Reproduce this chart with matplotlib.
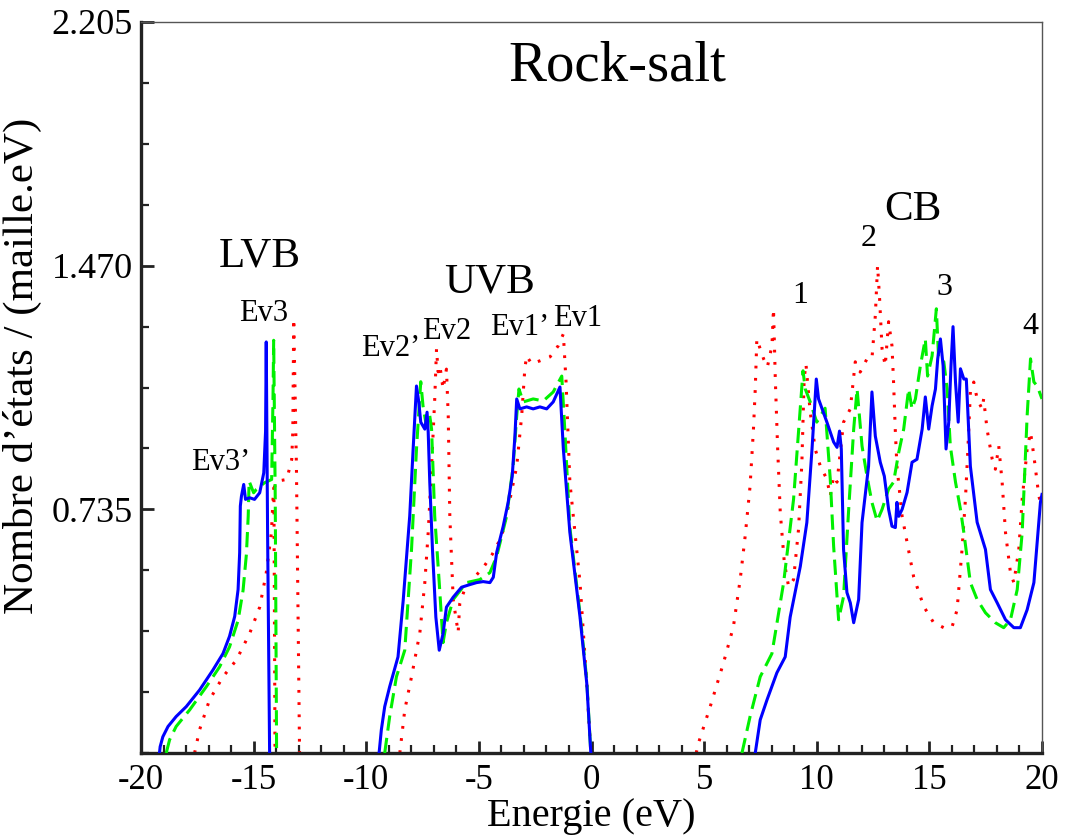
import numpy as np
import matplotlib
matplotlib.use("Agg")
import matplotlib.pyplot as plt
from matplotlib.ticker import MultipleLocator, FixedLocator

plt.rcParams['font.family'] = ['Liberation Serif', 'DejaVu Serif']

nan = np.nan

# ---- Density of states, blue solid curve ----
blue_lvb_e = [-19.18, -19.15, -19.03, -18.80, -18.44, -17.99, -17.40, -16.81, -16.36, -16.07,
              -15.84, -15.69, -15.62, -15.59, -15.54, -15.44, -15.36, -15.18, -14.96, -14.73,
              -14.55, -14.47, -14.44, -14.38, -14.29]
blue_lvb_d = [0, 0.019, 0.049, 0.08, 0.11, 0.14, 0.19, 0.25, 0.30, 0.352,
              0.412, 0.493, 0.604, 0.745, 0.775, 0.81, 0.765, 0.77, 0.765, 0.785,
              0.845, 0.97, 1.24, 0.665, 0]
blue_uvb_e = [-9.43, -9.33, -9.18, -8.96, -8.59, -8.36, -8.07, -7.92, -7.77, -7.67,
              -7.58, -7.40, -7.30, -7.25, -7.18, -7.06, -6.91, -6.76, -6.59, -6.44,
              -6.14, -5.77, -5.40, -5.10, -4.81, -4.51, -4.36, -4.21, -3.92, -3.70,
              -3.52, -3.40, -3.32, -3.18, -2.88, -2.59, -2.29, -1.99, -1.70, -1.40,
              -1.25, -0.96, -0.51, -0.21, -0.03]
blue_uvb_d = [0, 0.07, 0.14, 0.20, 0.29, 0.46, 0.715, 0.915, 1.107, 1.06,
              0.998, 0.977, 1.028, 0.968, 0.817, 0.614, 0.41, 0.31, 0.36, 0.44,
              0.47, 0.50, 0.508, 0.514, 0.517, 0.514, 0.53, 0.605, 0.684, 0.756,
              0.835, 0.956, 1.068, 1.038, 1.044, 1.038, 1.044, 1.038, 1.059, 1.104,
              0.917, 0.665, 0.41, 0.21, 0]
blue_cb_e = [7.27, 7.49, 7.79, 8.23, 8.60, 8.82, 9.27, 9.56, 9.79, 9.98,
             10.08, 10.45, 10.75, 10.90, 11.01, 11.09, 11.19, 11.34, 11.49, 11.64,
             11.86, 12.01, 12.30, 12.45, 12.60, 12.82, 13.00, 13.19, 13.34, 13.49,
             13.56, 13.64, 13.79, 14.01, 14.23, 14.45, 14.68, 14.82, 14.97, 15.12,
             15.27, 15.37, 15.49, 15.61, 15.74, 15.86, 15.96, 16.05, 16.16, 16.28,
             16.38, 16.53, 16.64, 16.82, 17.12, 17.49, 17.71, 18.01, 18.38, 18.75,
             19.04, 19.34, 19.64, 19.93, 20.0]
blue_cb_d = [0, 0.10, 0.16, 0.242, 0.29, 0.41, 0.563, 0.695, 0.917, 1.128,
             1.068, 0.998, 0.938, 0.922, 0.971, 0.917, 0.614, 0.484, 0.453, 0.393,
             0.463, 0.695, 0.865, 1.089, 0.956, 0.877, 0.835, 0.735, 0.684, 0.68,
             0.756, 0.714, 0.735, 0.786, 0.877, 0.886, 0.977, 1.074, 0.977, 1.047,
             1.098, 1.189, 1.249, 1.168, 0.917, 0.998, 1.168, 1.286, 1.119, 0.998,
             1.159, 1.128, 1.128, 0.865, 0.696, 0.614, 0.493, 0.453, 0.402, 0.378,
             0.378, 0.432, 0.514, 0.756, 0.78]

# ---- green dashed curve ----
green_lvb_e = [-18.88, -18.73, -18.44, -17.84, -17.10, -16.51, -16.07, -15.69, -15.47, -15.32,
               -15.24, -15.20, -15.00, -14.88, -14.52, -14.20, -14.14, -14.11, -14.04, -13.98]
green_lvb_d = [0, 0.04, 0.08, 0.13, 0.20, 0.26, 0.32, 0.40, 0.49, 0.60,
               0.715, 0.82, 0.785, 0.795, 0.815, 0.825, 1.07, 1.245, 0.765, 0]
green_uvb_e = [-9.18, -8.96, -8.66, -8.29, -7.99, -7.77, -7.58, -7.48, -7.33, -7.18,
               -7.10, -6.96, -6.76, -6.59, -6.44, -6.14, -5.55, -4.96, -4.51, -4.21,
               -3.77, -3.48, -3.32, -3.22, -3.03, -2.59, -2.14, -1.70, -1.32, -1.18,
               -0.96, -0.51, -0.21, -0.03]
green_uvb_d = [0, 0.11, 0.23, 0.31, 0.614, 0.917, 1.12, 1.047, 0.986, 1.017,
               0.977, 0.714, 0.514, 0.333, 0.393, 0.463, 0.514, 0.523, 0.544, 0.593,
               0.714, 0.865, 1.017, 1.098, 1.059, 1.068, 1.062, 1.089, 1.137, 0.968,
               0.68, 0.42, 0.22, 0]
green_cb_e = [6.68, 7.04, 7.49, 8.01, 8.53, 8.97, 9.19, 9.39, 9.49, 9.71,
              10.0, 10.37, 10.6, 10.75, 10.97, 11.19, 11.41, 11.64, 11.79, 12.01,
              12.23, 12.45, 12.68, 12.9, 13.19, 13.41, 13.64, 13.86, 14.08, 14.23,
              14.38, 14.6, 14.82, 14.92, 15.12, 15.31, 15.41, 15.64, 15.79, 15.93,
              16.16, 16.38, 16.53, 16.82, 17.12, 17.49, 17.93, 18.3, 18.6, 18.9,
              19.12, 19.34, 19.49, 19.64, 19.79, 20.0]
green_cb_d = [0, 0.11, 0.23, 0.30, 0.514, 0.765, 0.968, 1.153, 1.098, 1.059,
              0.998, 1.04, 0.826, 0.623, 0.402, 0.472, 0.726, 0.977, 1.098, 0.926,
              0.835, 0.756, 0.70, 0.735, 0.796, 0.817, 0.907, 0.977, 1.098, 1.038,
              1.068, 1.168, 1.249, 1.137, 1.198, 1.34, 1.189, 1.18, 1.098, 0.926,
              0.817, 0.735, 0.665, 0.514, 0.463, 0.423, 0.393, 0.378, 0.402, 0.493,
              0.665, 1.017, 1.189, 1.119, 1.107, 1.068]

# ---- red dotted curve ----
red_lvb_e = [-17.62, -17.40, -16.96, -16.36, -15.77, -15.18, -14.73, -14.44, -14.21, -14.14,
             -14.10, -14.05, nan, -14.08, -13.98, -13.53, -13.31, -13.26, -13.22, -13.10,
             -12.96]
red_lvb_d = [0, 0.07, 0.16, 0.23, 0.28, 0.36, 0.44, 0.543, 0.665, 0.765,
             0.80, 0, nan, 0.80, 0.82, 0.825, 0.885, 0.97, 1.31, 0.865,
             0]
red_uvb_e = [-8.51, -8.29, -7.99, -7.62, -7.40, -7.25, -7.10, -6.96, -6.88, -6.81,
             -6.73, -6.59, -6.44, -6.36, -6.29, -6.14, -5.92, -5.85, -5.60, -5.20,
             -4.80, -4.40, -3.99, -3.62, -3.32, -3.10, -2.96, -2.88, -2.66, -2.29,
             -1.84, -1.48, -1.25, -1.13, -0.96, -0.51, -0.21, -0.03]
red_uvb_d = [0, 0.13, 0.23, 0.363, 0.514, 0.665, 0.865, 1.068, 1.219, 1.15,
             1.168, 1.098, 1.158, 1.017, 0.714, 0.463, 0.363, 0.45, 0.50, 0.53,
             0.56, 0.60, 0.653, 0.765, 0.865, 1.017, 1.159, 1.198, 1.174, 1.183,
             1.195, 1.228, 1.264, 1.12, 0.817, 0.514, 0.21, 0]
red_cb_e = [4.65, 4.75, 5.27, 5.86, 6.30, 6.60, 6.82, 7.04, 7.19, 7.27,
            7.34, 7.49, 7.64, 7.81, 8.01, 8.08, 8.16, 8.26, 8.38, 8.56,
            8.75, 8.97, 9.19, 9.34, 9.44, 9.52, 9.71, 9.93, 10.16, 10.45,
            10.60, 10.75, 10.90, 11.19, 11.49, 11.71, 11.93, 12.23, 12.45, 12.60,
            12.70, 12.79, 12.90, 13.04, 13.19, 13.34, 13.41, 13.49, 13.56, 13.79,
            14.01, 14.30, 14.75, 15.19, 15.64, 16.01, 16.23, 16.45, 16.60, 16.71,
            16.82, 16.97, 17.12, 17.34, 17.41, 17.56, 17.79, 17.93, 18.08, 18.23,
            18.38, 18.60, 18.75, 18.97, 19.12, 19.34, 19.49, 19.64, 19.86, 20.0]
red_cb_d = [0, 0.03, 0.14, 0.272, 0.381, 0.523, 0.653, 0.805, 0.977, 1.098,
            1.249, 1.219, 1.189, 1.165, 1.228, 1.34, 1.128, 0.926, 0.726, 0.575,
            0.502, 0.523, 0.674, 0.877, 1.128, 1.174, 1.028, 0.917, 0.865, 0.826,
            0.775, 0.835, 0.817, 0.998, 1.038, 1.18, 1.149, 1.189, 1.189, 1.319,
            1.47, 1.37, 1.219, 1.168, 1.301, 1.228, 1.119, 0.968, 0.865, 0.714,
            0.635, 0.532, 0.442, 0.393, 0.378, 0.381, 0.432, 0.614, 0.765, 0.917,
            1.089, 1.119, 1.068, 1.038, 1.068, 0.977, 0.886, 0.856, 0.926, 0.817,
            0.665, 0.544, 0.514, 0.614, 0.765, 0.917, 0.968, 0.896, 0.775, 0.74]

# ---- axis ticks ----
x_major = [-20, -15, -10, -5, 0, 5, 10, 15, 20]
x_labels = ['-20', '-15', '-10', '-5', '0', '5', '10', '15', '20']
y_major = [0.735, 1.470, 2.205]
y_labels = ['0.735', '1.470', '2.205']

# ---- annotations: (text, energy, dos) ----
band_labels = [('LVB', -14.73, 1.497), ('UVB', -4.51, 1.42), ('CB', 14.29, 1.64)]
peak_labels = [('Ev3', -14.55, 1.325), ('Ev3\u2019', -16.47, 0.877),
               ('Ev2\u2019', -8.91, 1.219), ('Ev2', -6.42, 1.27),
               ('Ev1\u2019', -3.18, 1.283), ('Ev1', -0.6, 1.31)]
cb_labels = [('1', 9.27, 1.379), ('2', 12.29, 1.552), ('3', 15.67, 1.404), ('4', 19.49, 1.286)]


def join(*parts):
    """Concatenate band segments, separated by gaps so no line runs along zero."""
    out = []
    for i, p in enumerate(parts):
        if i:
            out.append([nan])
        out.append(np.asarray(p, dtype=float))
    return np.concatenate(out)


fig = plt.figure(figsize=(10.72, 8.39), dpi=100)
ax = fig.add_axes([141 / 1072, 1 - 753 / 839, 901 / 1072, 731 / 839])

lw = 2.2
ax.plot(join(red_lvb_e, red_uvb_e, red_cb_e), join(red_lvb_d, red_uvb_d, red_cb_d),
        color='#ff0000', lw=lw, linestyle=(0, (0.9, 3.1)), zorder=2)
ax.plot(join(green_lvb_e, green_uvb_e, green_cb_e), join(green_lvb_d, green_uvb_d, green_cb_d),
        color='#00f000', lw=lw, linestyle=(0, (5, 2.4)), zorder=3)
ax.plot(join(blue_lvb_e, blue_uvb_e, blue_cb_e), join(blue_lvb_d, blue_uvb_d, blue_cb_d),
        color='#0000ff', lw=lw, linestyle='-', zorder=4)

ax.set_xlim(-20, 20)
ax.set_ylim(0, 2.205)

ax.xaxis.set_major_locator(FixedLocator(x_major))
ax.set_xticklabels(x_labels)
ax.xaxis.set_minor_locator(MultipleLocator(1))
ax.yaxis.set_major_locator(FixedLocator(y_major))
ax.set_yticklabels(y_labels)
ax.yaxis.set_minor_locator(MultipleLocator(0.735 / 4))

ax.tick_params(which='both', direction='in', top=False, right=False, colors='#222222',
               labelcolor='black', labelsize=26)
ax.tick_params(which='major', length=9, width=2)
ax.tick_params(which='minor', length=6, width=1.6)
ax.tick_params(axis='x', pad=8, labelsize=25)
ax.tick_params(axis='y', pad=6)

for side in ('left', 'bottom'):
    ax.spines[side].set_linewidth(2.4)
    ax.spines[side].set_color('#222222')
for side in ('top', 'right'):
    ax.spines[side].set_linewidth(1.0)
    ax.spines[side].set_color('#555555')

ax.set_xlabel('Energie (eV)', fontsize=29)
ax.xaxis.set_label_coords(0.5, -0.061)
ax.set_ylabel('Nombre d\u2019\u00e9tats / (maille.eV)', fontsize=31)
ax.yaxis.set_label_coords(-0.11, 0.53)

ax.text(1.13, 2.07, 'Rock-salt', fontsize=41, ha='center', va='center')
for txt, xe, yd in band_labels:
    ax.text(xe, yd, txt, fontsize=31, ha='center', va='center')
for txt, xe, yd in peak_labels:
    ax.text(xe, yd, txt, fontsize=22, ha='center', va='center')
for txt, xe, yd in cb_labels:
    ax.text(xe, yd, txt, fontsize=23, ha='center', va='center')

fig.savefig('out.png', dpi=100, facecolor='white')
